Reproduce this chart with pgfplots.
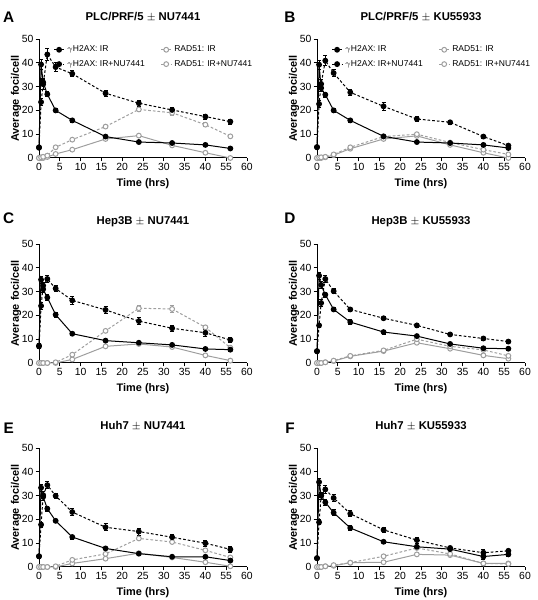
\documentclass[border=0pt]{standalone}
\usepackage{fontspec}
\setmainfont{Liberation Sans}
\usepackage{pgfplots}
\usepackage{pgfplotstable}
\pgfplotsset{compat=1.18}
\definecolor{rgray}{gray}{0.62}

% t in hours; columns: gH2AX IR (ir, irE), gH2AX IR+drug (nu, nuE), RAD51 IR (rir), RAD51 IR+drug (rnu, rnuE)
\pgfplotstableread{
t    ir   irE  nu   nuE  rir  rnu  rnuE
0    4.3  0.5  4.5  0.5  0    0    0
0.5  39.3 2.0  23.5 1.5  0    0.3  0
1    31.8 1.5  31.0 2.0  0    0.5  0
2    26.8 1.0  43.5 2.5  0.4  1.0  0
4    20.0 0.8  38.2 2.0  1.7  4.5  0
8    15.8 0.8  35.4 1.3  3.5  7.7  0
16   9.0  0.5  27.2 1.2  8.0  13.2 0.5
24   6.7  0.5  23.0 1.2  9.4  20.4 1.0
32   6.3  0.5  20.2 1.1  5.3  19.0 1.0
40   5.5  0.5  17.4 1.0  2.2  14.0 0.8
56   4.0  0.5  15.3 1.0  0    9.1  0.5
}\tabA
\pgfplotstableread{
t    ir   irE  nu   nuE  rir  rnu  rnuE
0    4.6  0.5  4.5  0.5  0    0    0
0.5  39.2 2.0  22.7 1.5  0    0.2  0
1    29.4 1.5  31.1 2.0  0    0.3  0
2    26.6 1.0  40.9 2.0  0.3  0.5  0
4    20.0 0.8  35.7 1.5  1.2  1.5  0
8    15.8 0.8  27.6 1.3  3.9  4.5  0
16   9.1  0.5  21.7 1.5  8.0  9.0  0.5
24   6.7  0.5  16.4 1.2  9.3  10.0 0.5
32   6.3  0.5  15.0 1.0  5.5  6.5  0.5
40   5.5  0.5  9.0  0.6  2.2  3.5  0.5
56   4.2  0.5  5.2  0.6  0    1.5  0.3
}\tabB
\pgfplotstableread{
t    ir   irE  nu   nuE  rir  rnu  rnuE
0    7.3  1.0  7.0  1.0  0    0    0
0.5  35.0 1.5  24.0 1.5  0    0    0
1    31.0 1.5  32.5 1.5  0    0    0
2    27.5 1.2  35.3 1.3  0    0    0
4    20.3 1.0  31.3 1.2  0    0.3  0
8    12.3 0.6  26.3 1.5  1.5  3.5  0
16   9.4  0.5  22.3 1.3  7.0  13.5 0.8
24   8.5  0.5  17.6 1.5  8.0  23.0 1.2
32   7.6  0.5  14.6 1.3  6.7  22.7 1.5
40   5.9  0.5  12.7 1.5  3.2  15.0 1.0
56   5.6  0.8  9.7  1.2  1.0  6.4  0.8
}\tabC
\pgfplotstableread{
t    ir   irE  nu   nuE  rir  rnu  rnuE
0    4.9  0.5  5.0  0.5  0    0    0
0.5  36.7 1.5  15.8 1.0  0    0    0
1    32.8 1.3  25.2 1.5  0    0    0
2    28.7 1.0  35.3 1.5  0.3  0.3  0
4    22.5 1.0  30.2 1.0  0.8  1.0  0
8    17.2 1.0  22.5 0.8  2.8  3.0  0
16   13.0 0.8  18.8 0.6  5.0  5.3  0
24   11.3 0.6  15.8 0.8  8.5  10.0 0.5
32   8.0  0.5  12.0 0.6  6.0  7.0  0.4
40   6.2  0.5  10.3 0.6  3.2  5.5  0.4
56   6.0  0.5  9.0  0.6  1.8  3.0  0.4
}\tabD
\pgfplotstableread{
t    ir   irE  nu   nuE  rir  rnu  rnuE
0    4.5  1.0  4.5  1.0  0    0    0
0.5  33.3 1.5  17.8 1.0  0    0    0
1    29.5 1.5  30.2 1.5  0    0    0
2    24.5 1.0  34.4 1.5  0    0    0
4    19.4 0.8  29.9 1.2  0    0.3  0
8    12.6 0.8  23.1 1.5  1.5  3.0  0
16   7.8  0.5  16.7 1.5  3.5  5.5  0
24   5.6  0.5  14.9 1.5  5.8  12.0 0.6
32   4.3  0.5  12.5 1.2  4.0  10.5 0.6
40   4.3  0.5  10.0 1.2  2.0  7.0  0.6
56   2.7  0.5  7.4  1.3  0.3  4.0  0.4
}\tabE
\pgfplotstableread{
t    ir   irE  nu   nuE  rir  rnu  rnuE
0    3.7  0.5  3.7  0.5  0    0    0
0.5  35.7 1.5  18.8 1.0  0    0    0
1    30.0 1.5  30.0 1.5  0    0    0
2    27.2 1.3  32.6 1.5  0.3  0.3  0
4    22.8 1.2  29.0 1.5  0.5  0.8  0
8    16.4 1.0  22.4 1.2  1.8  1.8  0
16   10.6 0.6  15.6 1.2  2.0  4.5  0
24   8.5  0.6  11.3 1.2  5.3  8.0  0.4
32   7.5  0.6  8.0  0.8  5.0  5.5  0.4
40   4.4  1.0  6.0  1.5  1.5  1.5  0.3
56   5.3  0.8  6.8  0.6  1.5  1.3  0.3
}\tabF

\pgfplotsset{
  panel/.style={
    scale only axis, width=156pt, height=89.25pt,
    xmin=0, xmax=50, ymin=0, ymax=50,
    axis x line*=bottom, axis y line*=left,
    xtick={0,5,...,50}, xticklabels={0,5,10,15,20,25,30,35,40,55,60},
    ytick={0,10,...,50},
    tick align=outside, major tick length=2.5pt,
    every tick/.style={black, line width=0.6pt},
    axis line style={black, line width=0.75pt},
    clip=false,
    /pgf/number format/assume math mode=true,
    ticklabel style={font=\fontsize{7.8}{8}\selectfont, inner sep=1.5pt},
    xlabel={Time (hrs)}, ylabel={Average foci/cell},
    label style={font=\bfseries\fontsize{8.2}{9}\selectfont},
    xlabel style={at={(axis description cs:0.5,-0.215)}, anchor=center},
    ylabel style={at={(axis description cs:-0.11,0.5)}, anchor=center},
    title style={font=\bfseries\fontsize{8.5}{9}\selectfont, at={(axis description cs:0.5,1.12)}, anchor=center},
  },
  irs/.style={black, line width=0.75pt, solid, mark=*, mark size=1.8pt,
    mark options={solid, fill=black},
    error bars/.cd, y dir=both, y explicit,
    error bar style={line width=0.6pt, solid},
    error mark options={rotate=90, mark size=1.5pt, line width=0.6pt, solid}},
  nus/.style={black, line width=0.75pt, dash pattern=on 2pt off 1.5pt, mark=*, mark size=1.8pt,
    mark options={solid, fill=black},
    error bars/.cd, y dir=both, y explicit,
    error bar style={line width=0.6pt, solid},
    error mark options={rotate=90, mark size=1.5pt, line width=0.6pt, solid}},
  rirs/.style={rgray, line width=0.75pt, solid, mark=*, mark size=1.8pt,
    mark options={solid, fill=white, draw=rgray}},
  rnus/.style={rgray, line width=0.75pt, dash pattern=on 2pt off 1.5pt, mark=*, mark size=1.8pt,
    mark options={solid, fill=white, draw=rgray},
    error bars/.cd, y dir=both, y explicit,
    error bar style={line width=0.6pt, solid},
    error mark options={rotate=90, mark size=1.5pt, line width=0.6pt, solid}},
  leg/.style={
    legend style={at={(axis description cs:0.05,0.99)}, anchor=north west,
      draw=none, fill=none, font=\fontsize{6.4}{7}\selectfont,
      /tikz/every even column/.append style={column sep=10pt},
      row sep=0.8pt},
    legend columns=2, legend cell align=left,
    legend image code/.code={\draw[mark repeat=2, mark phase=2] plot coordinates {(0cm,0cm) (0.13cm,0cm) (0.26cm,0cm)};},
  },
}

% the time axis is broken between 40 and 55 h: hours beyond 50 are drawn 10 units to the left
\newcommand{\tx}{\thisrow{t}>50 ? \thisrow{t}-10 : \thisrow{t}}
\newcommand{\panelplots}[1]{%
  \addplot[forget plot, rirs] table[x expr=\tx, y=rir] {#1};
  \addplot[forget plot, rnus] table[x expr=\tx, y=rnu, y error=rnuE] {#1};
  \addplot[forget plot, irs] table[x expr=\tx, y=ir, y error=irE] {#1};
  \addplot[forget plot, nus] table[x expr=\tx, y=nu, y error=nuE] {#1};
}
\newcommand{\panellegend}{%
  \addlegendimage{black, line width=0.75pt, solid, mark=*, mark size=1.8pt, mark options={solid, fill=black}}
  \addlegendentry{$\gamma$H2AX: IR}
  \addlegendimage{rgray, line width=0.75pt, solid, mark=*, mark size=1.8pt, mark options={solid, fill=white, draw=rgray}}
  \addlegendentry{RAD51: IR}
  \addlegendimage{black, line width=0.75pt, dash pattern=on 2pt off 1.5pt, mark=*, mark size=1.8pt, mark options={solid, fill=black}}
  \addlegendentry{$\gamma$H2AX: IR+NU7441}
  \addlegendimage{rgray, line width=0.75pt, dash pattern=on 2pt off 1.5pt, mark=*, mark size=1.8pt, mark options={solid, fill=white, draw=rgray}}
  \addlegendentry{RAD51: IR+NU7441}
}

\begin{document}
\begin{tikzpicture}
\useasboundingbox (0pt,0pt) rectangle (403.5pt,450pt);

\begin{axis}[panel, leg, at={(29.25pt,331.5pt)}, anchor=south west, title={PLC/PRF/5 $\pm$ NU7441}]
\panelplots{\tabA}
\panellegend
\end{axis}

\begin{axis}[panel, leg, at={(237.75pt,331.5pt)}, anchor=south west, title={PLC/PRF/5 $\pm$ KU55933}]
\panelplots{\tabB}
\panellegend
\end{axis}

\begin{axis}[panel, at={(29.25pt,177.75pt)}, anchor=south west, title={Hep3B $\pm$ NU7441}]
\panelplots{\tabC}
\end{axis}

\begin{axis}[panel, at={(237.75pt,177.75pt)}, anchor=south west, title={Hep3B $\pm$ KU55933}]
\panelplots{\tabD}
\end{axis}

\begin{axis}[panel, at={(29.25pt,24.75pt)}, anchor=south west, title={Huh7 $\pm$ NU7441}]
\panelplots{\tabE}
\end{axis}

\begin{axis}[panel, at={(237.75pt,24.75pt)}, anchor=south west, title={Huh7 $\pm$ KU55933}]
\panelplots{\tabF}
\end{axis}

\node[font=\bfseries\fontsize{11.5}{12}\selectfont] at (6.5pt,437.25pt) {A};
\node[font=\bfseries\fontsize{11.5}{12}\selectfont] at (217.5pt,437.25pt) {B};
\node[font=\bfseries\fontsize{11.5}{12}\selectfont] at (6.5pt,286.5pt) {C};
\node[font=\bfseries\fontsize{11.5}{12}\selectfont] at (217.5pt,286.5pt) {D};
\node[font=\bfseries\fontsize{11.5}{12}\selectfont] at (6.5pt,129pt) {E};
\node[font=\bfseries\fontsize{11.5}{12}\selectfont] at (217.5pt,129pt) {F};
\end{tikzpicture}
\end{document}
